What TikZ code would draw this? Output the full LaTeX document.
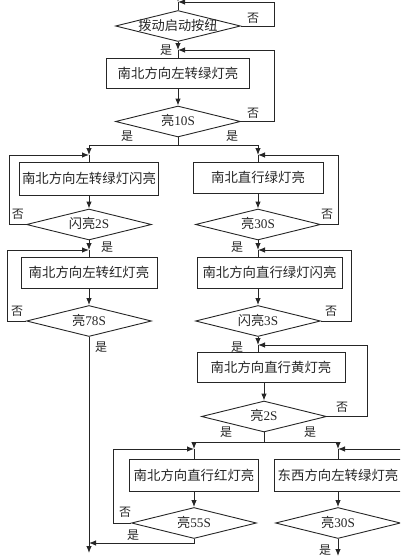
\documentclass[tikz,border=0pt]{standalone}
\usepackage{fontspec}
\setmainfont{Liberation Serif}
\newfontfamily\cjk{Noto Sans CJK SC}
\usetikzlibrary{arrows.meta,shapes.geometric}
\begin{document}
\begin{tikzpicture}[x=1pt,y=-1pt,
  line width=0.9pt, color=black!85,
  box/.style={draw, rectangle, inner sep=0pt, minimum height=31pt, font=\cjk\fontsize{13.4}{15}\selectfont},
  dia/.style={draw, diamond, aspect=4, inner sep=0pt, minimum width=125pt, minimum height=31pt, text height=0.8em, text depth=0pt, font=\cjk\fontsize{13.2}{15}\selectfont},
  arr/.style={-{Latex[length=7pt,width=5.5pt]}},
  lbl/.style={font=\cjk\fontsize{12}{14}\selectfont, inner sep=0pt}]
\useasboundingbox (0,0) rectangle (400,557);
\clip (0,0) rectangle (400,557);
% nodes
\node[dia] (d0) at (178,26) {拨动启动按纽};
\node[box, minimum width=143pt, minimum height=30pt] (b1) at (178,73) {南北方向左转绿灯亮};
\node[dia] (d1) at (178,121.5) {亮{\rmfamily 10S}};
\node[box, minimum width=139pt, minimum height=33pt] (b2L) at (89,178.5) {南北方向左转绿灯闪亮};
\node[dia] (d2L) at (89,224.5) {闪亮{\rmfamily 2S}};
\node[box, minimum width=130pt] (b2R) at (258,177.5) {南北直行绿灯亮};
\node[dia] (d2R) at (258,224.5) {亮{\rmfamily 30S}};
\node[box, minimum width=136pt] (b3L) at (89,272.5) {南北方向左转红灯亮};
\node[dia] (d3L) at (89,321) {亮{\rmfamily 78S}};
\node[box, minimum width=145pt] (b3R) at (269.5,272.5) {南北方向直行绿灯闪亮};
\node[dia] (d3R) at (258,321) {闪亮{\rmfamily 3S}};
\node[box, minimum width=148pt, minimum height=30pt] (b4) at (271,367) {南北方向直行黄灯亮};
\node[dia] (d4) at (264,416.5) {亮{\rmfamily 2S}};
\node[box, minimum width=129pt, minimum height=32pt] (b5L) at (194,475) {南北方向直行红灯亮};
\node[dia] (d5L) at (194,523) {亮{\rmfamily 55S}};
\node[box, minimum width=128pt, minimum height=32pt] (b5R) at (338,475) {东西方向左转绿灯亮};
\node[dia] (d5R) at (338,523) {亮{\rmfamily 30S}};
% junctions
\coordinate (top) at (178,-12);
\coordinate (j0) at (178,2);
\coordinate (j1) at (178,50);
\coordinate (s1) at (178,145);
\coordinate (j2L) at (89,155);
\coordinate (j2R) at (258,155);
\coordinate (j3L) at (89,250);
\coordinate (j3R) at (258,250);
\coordinate (j4) at (258,345);
\coordinate (s4) at (264,442);
\coordinate (j5L) at (194,449);
\coordinate (j5R) at (338,449);
\coordinate (jB) at (89,543);
\coordinate (endL) at (89,553);
\coordinate (endR) at (338,556);
% connectors
\draw[arr] (top) -- (j0);
\draw (j0) -- (d0.north);
\draw[arr] (d0.east) -- ++(33,0) |- (j0);
\draw[arr] (d0.south) -- (j1);
\draw (j1) -- (b1.north);
\draw[arr] (b1.south) -- (d1.north);
\draw[arr] (d1.east) -- ++(33,0) |- (j1);
\draw (d1.south) -- (s1);
\draw (j2L |- s1) -- (j2R |- s1);
\draw[arr] (j2L |- s1) -- (j2L);
\draw[arr] (j2R |- s1) -- (j2R);
\draw (j2L) -- (b2L.north);
\draw (j2R) -- (b2R.north);
\draw[arr] (b2L.south) -- (d2L.north);
\draw[arr] (b2R.south) -- (d2R.north);
\draw[arr] (d2L.west) -- ++(-16.5,0) |- (j2L);
\draw[arr] (d2R.east) -- ++(17.5,0) |- (j2R);
\draw[arr] (d2L.south) -- (j3L);
\draw (j3L) -- (b3L.north);
\draw[arr] (b3L.south) -- (d3L.north);
\draw[arr] (d3L.west) -- ++(-18.5,0) |- (j3L);
\draw[arr] (d3L.south) -- (endL);
\draw[arr] (d2R.south) -- (j3R);
\draw (j3R) -- (j3R |- b3R.north);
\draw[arr] (d3R.north |- b3R.south) -- (d3R.north);
\draw[arr] (d3R.east) -- ++(30,0) |- (j3R);
\draw[arr] (d3R.south) -- (j4);
\draw (j4) -- (j4 |- b4.north);
\draw[arr] (d4.north |- b4.south) -- (d4.north);
\draw[arr] (d4.east) -- ++(40.5,0) |- (j4);
\draw (d4.south) -- (s4);
\draw (j5L |- s4) -- (j5R |- s4);
\draw[arr] (j5L |- s4) -- (j5L);
\draw[arr] (j5R |- s4) -- (j5R);
\draw (j5L) -- (b5L.north);
\draw (j5R) -- (b5R.north);
\draw[arr] (b5L.south) -- (d5L.north);
\draw[arr] (b5R.south) -- (d5R.north);
\draw[arr] (d5L.west) -- ++(-17.5,0) |- (j5L);
\draw[arr] (d5R.east) -- ++(15,0) |- (j5R);
\draw[arr] (d5L.south) |- (jB);
\draw[arr] (d5R.south) -- (endR);
% labels
\node[lbl] (n0) at (253,18) {否};
\node[lbl] (y0) at (166,50) {是};
\node[lbl] (n1) at (253,113) {否};
\node[lbl] (y1a) at (127,136) {是};
\node[lbl] (y1b) at (232,136) {是};
\node[lbl] (n2L) at (18,214) {否};
\node[lbl] (y2L) at (107,247) {是};
\node[lbl] (n2R) at (327,214) {否};
\node[lbl] (y2R) at (237,247) {是};
\node[lbl] (n3L) at (17,311) {否};
\node[lbl] (y3L) at (101,347) {是};
\node[lbl] (n3R) at (331,311) {否};
\node[lbl] (y3R) at (237,347) {是};
\node[lbl] (n4) at (342,407) {否};
\node[lbl] (y4a) at (226,432) {是};
\node[lbl] (y4b) at (310,432) {是};
\node[lbl] (n5L) at (125,512) {否};
\node[lbl] (y5L) at (133,535) {是};
\node[lbl] (y5R) at (325,550) {是};
\end{tikzpicture}
\end{document}
